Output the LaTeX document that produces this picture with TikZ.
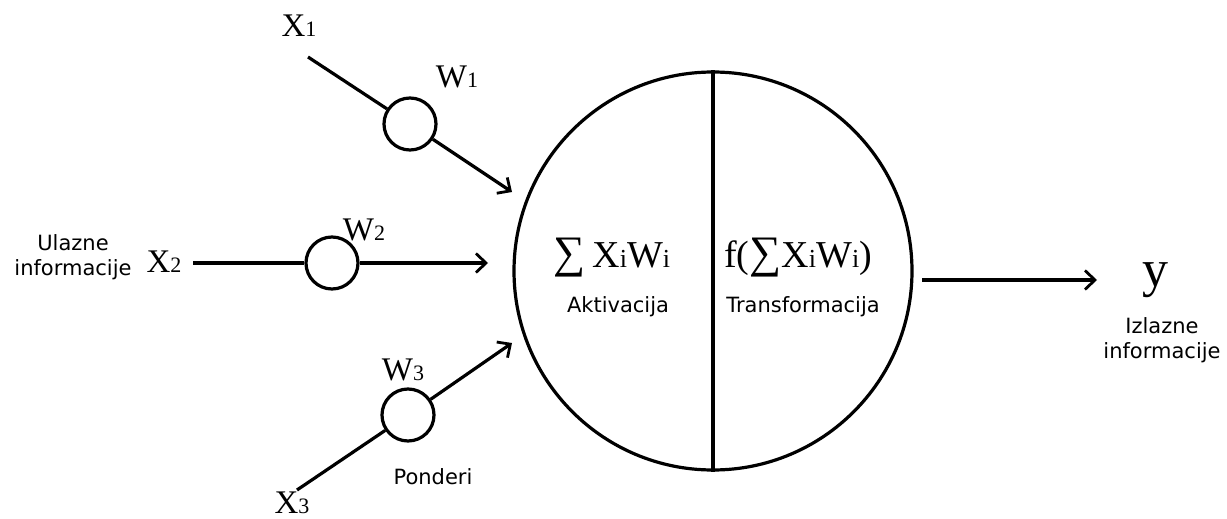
\documentclass[tikz,border=0pt]{standalone}
\usepackage{fontspec}
\setmainfont{Liberation Serif}
\newfontfamily\capfont{DejaVu Sans}
\usetikzlibrary{arrows.meta}
% smaller index digits / letters set on the baseline
\newcommand\ix[1]{{\fontsize{22}{22}\selectfont #1}}
\newcommand\fx[1]{{\fontsize{26}{26}\selectfont #1}}
% enlarged summation sign
\newcommand\bigsum{{\fontsize{45}{45}\selectfont ∑}}

\begin{document}
\begin{tikzpicture}[x=1pt,y=-1pt,line width=3.2pt,
  weight/.style={circle,draw,minimum size=52pt,inner sep=0pt,fill=white},
  conn/.style={-{Straight Barb[length=10pt,width=19pt,line width=2.8pt]}},
  var/.style={font=\fontsize{33}{33}\selectfont,inner sep=0pt,anchor=base},
  formula/.style={font=\fontsize{38}{38}\selectfont,inner sep=0pt,anchor=base},
  caption/.style={font=\capfont\fontsize{21}{25}\selectfont,align=center,inner sep=0pt}]
\useasboundingbox (0,0) rectangle (1227,519);

% neuron body with its dividing line
\node (neuron) [circle,draw,minimum size=398pt,inner sep=0pt] at (713,271) {};
\draw (neuron.north) -- (neuron.south);

% input paths
\coordinate (s1) at (308,57);
\coordinate (t1) at (512,192);
\coordinate (s2) at (193,263);
\coordinate (t2) at (488,263);
\coordinate (s3) at (297,490);
\coordinate (t3) at (512,343);

\node (w1) [weight] at (410,124) {};
\node (w2) [weight] at (332,263) {};
\node (w3) [weight] at (408,415) {};

\draw (s1) -- (w1);
\draw[conn] (w1) -- (t1);
\draw (s2) -- (w2);
\draw[conn] (w2) -- (t2);
\draw (s3) -- (w3);
\draw[conn] (w3) -- (t3);

% output
\coordinate (o1) at (922,280);
\coordinate (o2) at (1097,280);
\draw[conn] (o1) -- (o2);

% variable labels
\node (x1) [var] at (299,37) {X\ix{1}};
\node (x2) [var] at (164,272) {X\ix{2}};
\node (x3) [var] at (292,513) {X\ix{3}};
\node (lw1) [var] at (457,88) {W\ix{1}};
\node (lw2) [var] at (364,240) {W\ix{2}};
\node (lw3) [var] at (403,380) {W\ix{3}};
\node (y) [font=\fontsize{52}{52}\selectfont,inner sep=0pt,anchor=base] at (1155,286) {y};

% formulas
\node (sum) [formula] at (612,267) {\bigsum\,X\fx{i}W\fx{i}};
\node (act) [formula] at (798,267) {f(\bigsum X\fx{i}W\fx{i})};

% captions
\node (in) [caption] at (73,257) {Ulazne\\informacije};
\node (pon) [caption] at (433,477) {Ponderi};
\node (akt) [caption] at (618,307) {Aktivacija};
\node (tra) [caption] at (803,307) {Transformacija};
\node (out) [caption] at (1162,340) {Izlazne\\informacije};
\end{tikzpicture}
\end{document}
